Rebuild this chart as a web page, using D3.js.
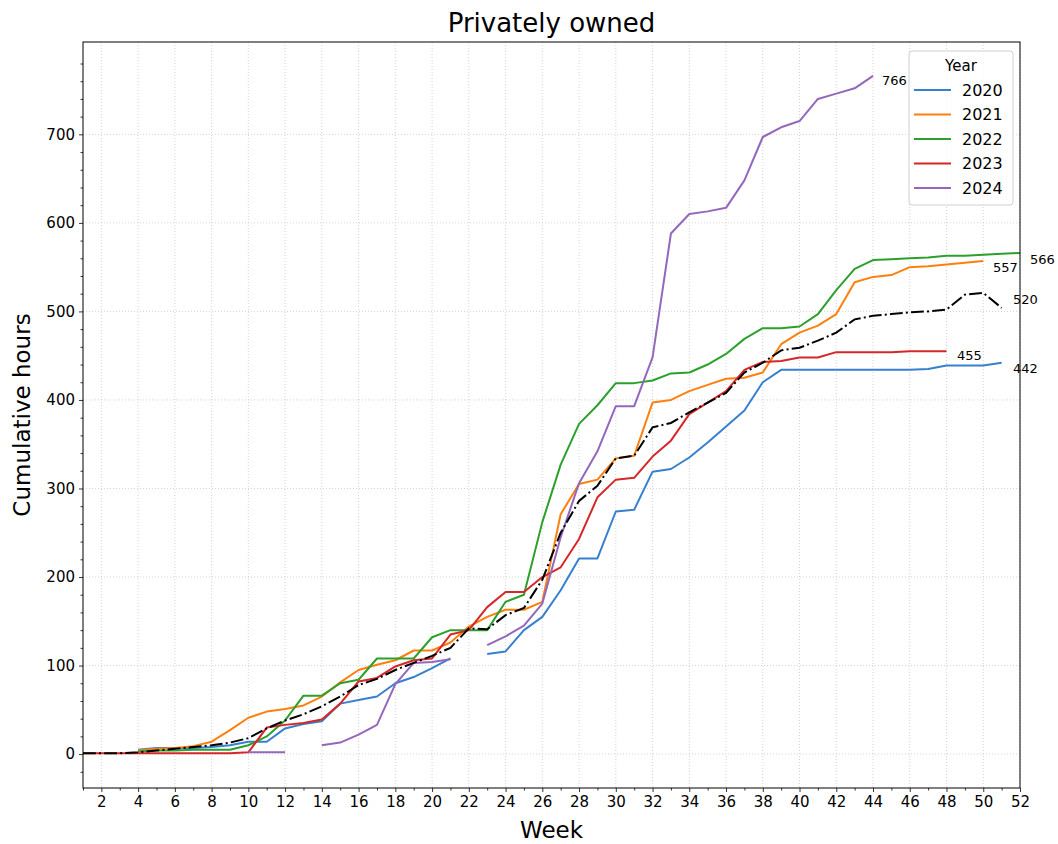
<!DOCTYPE html>
<html><head><meta charset="utf-8">
<script src="https://cdn.jsdelivr.net/npm/d3@7/dist/d3.min.js"></script>
<style>
body{margin:0;background:#fff;}
text{font-family:"DejaVu Sans",sans-serif;fill:#000;}
</style></head>
<body><svg id="chart" width="1058" height="844"></svg>
<script>
const weeks = [1,2,3,4,5,6,7,8,9,10,11,12,13,14,15,16,17,18,19,20,21,22,23,24,25,26,27,28,29,30,31,32,33,34,35,36,37,38,39,40,41,42,43,44,45,46,47,48,49,50,51,52];
const years = ["2020","2021","2022","2023","2024"];
const colors = ["#3680cf","#ff7f0e","#2ca02c","#d62728","#9467bd"];
const v2020 = [null,null,null,5,7,7,7,8,10,14, 14,29,34,37,57,61,65,80,87,97, 108,null,113,116,140,155,185,221,221,274, 276,319,322,335,352,370,388,420,434,434, 434,434,434,434,434,434,435,439,439,439, 442,null];
const v2021 = [null,null,null,4,6,7,9,14,27,41, 48,51,55,65,81,95,101,106,117,117, 126,144,155,163,163,172,271,305,310,334, 337,397,400,410,417,424,425,431,463,476, 484,497,533,539,541,550,551,553,555,557, null,null];
const v2022 = [null,null,null,3,4,4,5,5,5,10, 20,38,66,66,80,84,108,108,108,132, 140,140,140,172,180,262,327,373,394,419, 419,422,430,431,440,452,469,481,481,483, 497,524,548,558,559,560,561,563,563,564, 565,566];
const v2023 = [1,1,1,1,1,1,1,1,1,2, 30,33,35,39,57,82,86,99,106,108, 135,140,166,183,183,200,211,243,290,310, 312,336,354,384,397,410,434,443,444,448, 448,454,454,454,454,455,455,455,null,null, null,null];
const v2024 = [null,null,null,null,null,null,null,null,null,2, 2,2,null,10,13,22,33,79,103,104, 107,null,123,133,145,170,245,306,342,393, 393,448,588,610,613,617,648,697,708,715, 740,746,752,766,null,null,null,null,null,null, null,null];
const vMean = [1,1,1,2,4,6,8,10,13,18, 29,38,45,54,65,78,85,95,103,111, 120,142,141,157,165,197,250,286,303,334, 337,369,374,386,397,408,431,442,456,459, 467,476,491,495,497,499,500,502,519,521, 504,null];
const seriesValues = [v2020,v2021,v2022,v2023,v2024];
const endLabels = ["442","557","566","455","766","520"];
const endLabelWeeks = [51.62,50.53,52.54,48.57,44.49,51.62];
const endLabelValues = [435,550,559,450,761,513];
const xTicks = [2,4,6,8,10,12,14,16,18,20,22,24,26,28,30,32,34,36,38,40,42,44,46,48,50,52];
const yTicks = [0,100,200,300,400,500,600,700];

const svg = d3.select("#chart");
const L=83, R=1020, T=42, B=788;
const x = d3.scaleLinear().domain([1,52]).range([L,R]);
const y = d3.scaleLinear().domain([-38.3,804.3]).range([B,T]);

// grid
const g = svg.append("g");
g.selectAll(".gx").data(xTicks).join("line")
  .attr("x1",d=>x(d)).attr("x2",d=>x(d)).attr("y1",T).attr("y2",B)
  .attr("stroke","#c8c8c8").attr("stroke-width",0.8).attr("stroke-dasharray","1,2");
g.selectAll(".gy").data(yTicks).join("line")
  .attr("x1",L).attr("x2",R).attr("y1",d=>y(d)).attr("y2",d=>y(d))
  .attr("stroke","#c8c8c8").attr("stroke-width",0.8).attr("stroke-dasharray","1,2");

// axes
const xAxis = d3.axisBottom(x).tickValues(xTicks).tickSize(4).tickPadding(4).tickFormat(d3.format("d"));
const xMinor = d3.axisBottom(x).tickValues(weeks.filter(w=>w%2===1)).tickSize(2.5).tickFormat("");
const yAxis = d3.axisLeft(y).tickValues(yTicks).tickSize(4).tickPadding(4).tickFormat(d3.format("d"));
const yMinor = d3.axisLeft(y).tickValues(d3.range(-20,801,20).filter(v=>v%100!==0)).tickSize(2.5).tickFormat("");
function style(sel){sel.select(".domain").remove();sel.selectAll("line").attr("stroke","#000").attr("stroke-width",0.8);sel.selectAll("text").style("font-size","15px").style("font-family","DejaVu Sans");}
svg.append("g").attr("transform",`translate(0,${B})`).call(xAxis).call(style);
svg.append("g").attr("transform",`translate(0,${B})`).call(xMinor).call(style);
svg.append("g").attr("transform",`translate(${L},0)`).call(yAxis).call(style);
svg.append("g").attr("transform",`translate(${L},0)`).call(yMinor).call(style);

// lines
const line = d3.line().defined(d=>d[1]!=null).x(d=>x(d[0])).y(d=>y(d[1]));
seriesValues.forEach((vals,i)=>{
  svg.append("path").datum(weeks.map((w,j)=>[w,vals[j]]))
    .attr("d",line).attr("fill","none").attr("stroke",colors[i]).attr("stroke-width",2)
    .attr("stroke-linejoin","round");
});
svg.append("path").datum(weeks.map((w,j)=>[w,vMean[j]]))
  .attr("d",line).attr("fill","none").attr("stroke","#000").attr("stroke-width",2)
  .attr("stroke-dasharray","12.8,3.2,2,3.2");

// end labels
svg.selectAll(".elab").data(endLabels).join("text")
  .attr("x",(d,i)=>x(endLabelWeeks[i])).attr("y",(d,i)=>y(endLabelValues[i]))
  .attr("dominant-baseline","central").style("font-size","13px").text(d=>d);

// frame
svg.append("rect").attr("x",L).attr("y",T).attr("width",R-L).attr("height",B-T)
  .attr("fill","none").attr("stroke","#000").attr("stroke-width",1);

// title and axis labels
svg.append("text").attr("x",(L+R)/2).attr("y",23).attr("text-anchor","middle")
  .attr("dominant-baseline","central").style("font-size","26px").text("Privately owned");
svg.append("text").attr("x",(L+R)/2).attr("y",830).attr("text-anchor","middle")
  .attr("dominant-baseline","central").style("font-size","23px").text("Week");
svg.append("text").attr("transform",`translate(22,${(T+B)/2}) rotate(-90)`).attr("text-anchor","middle")
  .attr("dominant-baseline","central").style("font-size","23px").text("Cumulative hours");

// legend
const lg = svg.append("g");
lg.append("rect").attr("x",909).attr("y",51).attr("width",104).attr("height",154).attr("rx",3)
  .attr("fill","#fff").attr("fill-opacity",0.8).attr("stroke","#d0d0d0");
lg.append("text").attr("x",961).attr("y",66).attr("text-anchor","middle")
  .attr("dominant-baseline","central").style("font-size","15px").text("Year");
years.forEach((yr,i)=>{
  const yy = 90 + i*24.5;
  lg.append("line").attr("x1",914).attr("x2",951).attr("y1",yy).attr("y2",yy)
    .attr("stroke",colors[i]).attr("stroke-width",2);
  lg.append("text").attr("x",962).attr("y",yy).attr("dominant-baseline","central")
    .style("font-size","16px").text(yr);
});
</script></body></html>
